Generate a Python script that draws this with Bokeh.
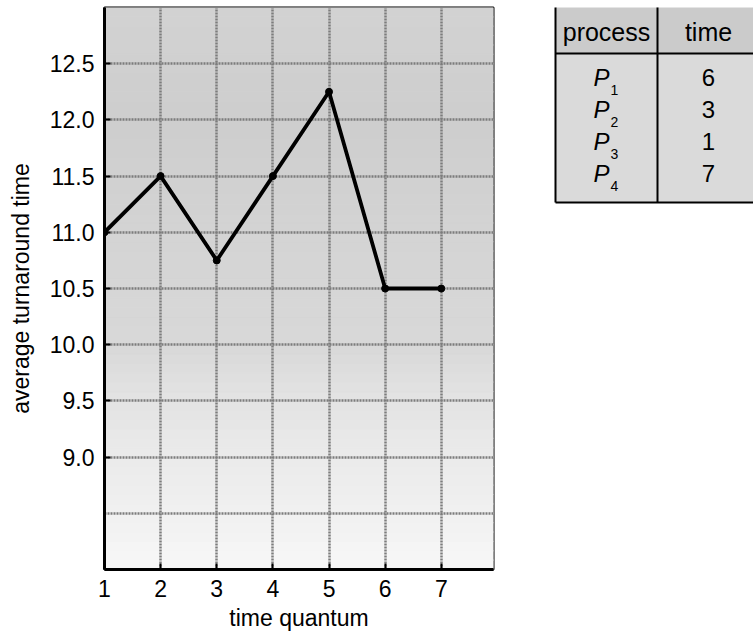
import numpy as np
from bokeh.plotting import figure
from bokeh.models import Range1d, FixedTicker, PrintfTickFormatter
from bokeh.layouts import row
from bokeh.embed import file_html
from bokeh.resources import INLINE
from bokeh.core.properties import value

# ---- data ----
quantum = [1, 2, 3, 4, 5, 6, 7]
avg_turnaround = [11.0, 11.5, 10.75, 11.5, 12.25, 10.5, 10.5]
x_ticks = [1, 2, 3, 4, 5, 6, 7]
y_ticks = [9.0, 9.5, 10.0, 10.5, 11.0, 11.5, 12.0, 12.5]
x_grid = [2, 3, 4, 5, 6, 7]
y_grid = [8.5, 9.0, 9.5, 10.0, 10.5, 11.0, 11.5, 12.0, 12.5]
process_ids = ["1", "2", "3", "4"]
burst_times = ["6", "3", "1", "7"]
header = ["process", "time"]

FONT = "Liberation Sans"
X0, X1 = 1.0, 7.93
Y0, Y1 = 8.0, 13.0

p = figure(frame_width=389, frame_height=562,
           x_range=Range1d(X0, X1), y_range=Range1d(Y0, Y1),
           output_backend="svg", toolbar_location=None,
           min_border_top=7, min_border_left=104, min_border_right=60,
           min_border_bottom=0)

# dithered-looking gray background (darker at top)
edges = np.linspace(Y0, Y1, 61)
mids = (edges[:-1] + edges[1:]) / 2
stop_y = [8.0, 8.5, 9.0, 9.5, 10.0, 11.0, 12.0, 13.0]
stop_g = [248, 241, 235, 228, 217, 212, 206, 211]
gv = np.interp(mids, stop_y, stop_g)
band_colors = ["#%02x%02x%02x" % (int(v), int(v), int(v)) for v in gv]
p.quad(left=X0, right=X1, bottom=edges[:-1], top=edges[1:],
       fill_color=band_colors, line_color=band_colors, line_width=1,
       level="image")

p.xgrid.ticker = FixedTicker(ticks=x_grid)
p.ygrid.ticker = FixedTicker(ticks=y_grid)
p.grid.grid_line_color = "#7c7c7c"
p.grid.grid_line_width = 2.5
p.grid.grid_line_dash = "2 1"

p.line(quantum, avg_turnaround, line_color="black", line_width=3.8)
p.scatter(quantum, avg_turnaround, size=7, color="black")

p.xaxis.ticker = FixedTicker(ticks=x_ticks)
p.yaxis.ticker = FixedTicker(ticks=y_ticks)
p.yaxis.formatter = PrintfTickFormatter(format="%.1f")
p.xaxis.axis_label = "time quantum"
p.yaxis.axis_label = "average turnaround time"
for ax in (p.xaxis, p.yaxis):
    ax.axis_line_width = 3
    ax.axis_line_color = "black"
    ax.major_tick_in = 6
    ax.major_tick_out = 0
    ax.major_tick_line_width = 2
    ax.minor_tick_line_color = None
    ax.major_label_text_font = FONT
    ax.major_label_text_font_size = "23px"
    ax.major_label_text_color = "black"
    ax.axis_label_text_font = FONT
    ax.axis_label_text_font_size = "23px"
    ax.axis_label_text_font_style = "normal"
    ax.axis_label_text_color = "black"
p.xaxis.major_label_standoff = 10
p.xaxis.axis_label_standoff = 5
p.yaxis.major_label_standoff = 10
p.yaxis.axis_label_standoff = 13
p.outline_line_color = "black"
p.outline_line_width = 2

# ---- table ----
PX = 102.0   # pixels per table column unit
PY = 32.0    # pixels per table row unit
FH = 210
TOPPIX = 8   # observed frame top of the table figure
t = figure(frame_width=200, frame_height=FH,
           x_range=Range1d(-2 / PX, 198 / PX),
           y_range=Range1d((TOPPIX + FH - 46) / PY, (TOPPIX - 46) / PY),
           x_axis_location=None, y_axis_location=None,
           output_backend="svg", toolbar_location=None, min_border=0)
t.grid.visible = False
t.outline_line_color = None

TOP, HLINE, BOT = -1.25, 0.25, 4.906
t.quad(left=0, right=2.2, top=TOP, bottom=HLINE, fill_color="#cbcbcb", line_color=None)
t.quad(left=0, right=2.2, top=HLINE, bottom=BOT, fill_color="#dadada", line_color=None)
t.segment(x0=[0, 0, 0, 0, 1], y0=[TOP, HLINE, BOT, TOP, TOP],
          x1=[2.2, 2.2, 2.2, 0, 1], y1=[TOP, HLINE, BOT, BOT, BOT],
          line_color="black", line_width=2)

t.text(x=[0.5, 1.5], y=[-0.4375, -0.4375], text=header,
       text_font=value(FONT), text_font_size="25px",
       text_align="center", text_baseline="middle", text_color="black")

rows_y = list(range(1, len(process_ids) + 1))
t.text(x=[0.5] * len(rows_y), y=rows_y, text=["P"] * len(rows_y), x_offset=-5,
       text_font=value(FONT), text_font_size="24px", text_font_style="italic",
       text_align="center", text_baseline="middle", text_color="black")
t.text(x=[0.5] * len(rows_y), y=rows_y, text=process_ids, x_offset=8, y_offset=12,
       text_font=value(FONT), text_font_size="14px",
       text_align="center", text_baseline="middle", text_color="black")
t.text(x=[1.5] * len(rows_y), y=rows_y, text=burst_times,
       text_font=value(FONT), text_font_size="24px",
       text_align="center", text_baseline="middle", text_color="black")

layout = row(p, t)
open("out.html", "w").write(file_html(layout, INLINE))
